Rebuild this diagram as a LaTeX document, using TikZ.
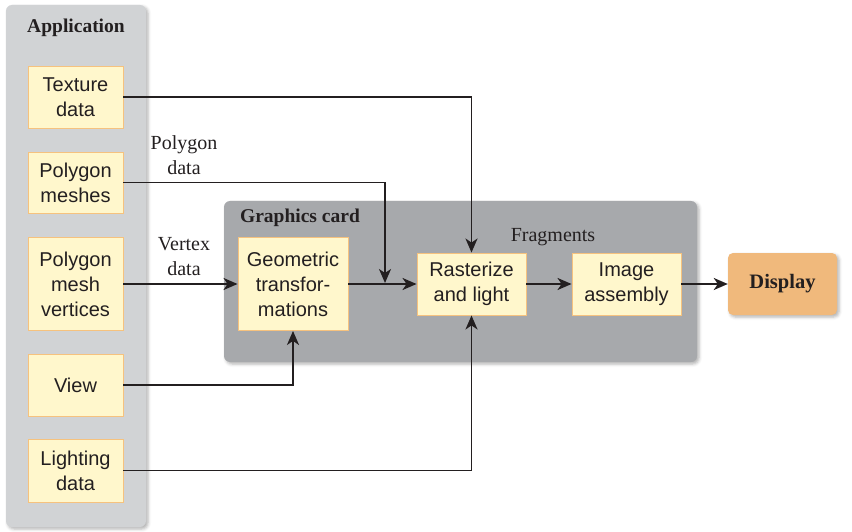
\documentclass[tikz,border=0pt]{standalone}
\usepackage{fontspec}
\setmainfont{Liberation Serif}
\newfontfamily\boxfont{Liberation Sans}
\usetikzlibrary{arrows.meta,shadows.blur}
\definecolor{apppanel}{HTML}{D1D3D5}
\definecolor{cardpanel}{HTML}{A7A9AC}
\definecolor{boxfill}{HTML}{FFF7CC}
\definecolor{boxline}{HTML}{F6C27E}
\definecolor{dispfill}{HTML}{F0B97C}
\definecolor{ink}{HTML}{231F20}
\tikzset{
  panel/.style={rounded corners=6pt, draw=none, blur shadow={shadow xshift=2pt, shadow yshift=-2pt, shadow blur radius=3pt, shadow opacity=30}},
  databox/.style={draw=boxline, fill=boxfill, line width=0.9pt, inner sep=0pt, align=center, text=ink,
    font=\boxfont\fontsize{20}{25}\selectfont},
  lbl/.style={align=center, text=ink, font=\fontsize{20}{25}\selectfont},
  title/.style={text=ink, font=\bfseries\fontsize{19.5}{24}\selectfont},
  conn/.style={draw=ink, line width=1.9pt, -{Stealth[length=14pt,width=12pt,inset=4pt]}},
}
\begin{document}
\begin{tikzpicture}[x=1pt,y=-1pt]
\useasboundingbox (0,0) rectangle (852,532);
% panels
\path[panel, fill=apppanel] (6,5) rectangle (146,527);
\path[panel, fill=cardpanel] (224,201) rectangle (697,362);
\node[title] (apptitle) at (76,28) {Application};
\node[title] (cardtitle) at (300,218) {Graphics card};
% application boxes
\node[databox, minimum width=95pt, minimum height=62pt] (tex) at (75.5,97) {Texture\\data};
\node[databox, minimum width=95pt, minimum height=61pt] (pmesh) at (75.5,182.5) {Polygon\\meshes};
\node[databox, minimum width=95pt, minimum height=93pt] (pverts) at (75.5,284) {Polygon\\mesh\\vertices};
\node[databox, minimum width=95pt, minimum height=62pt] (view) at (75.5,385) {View};
\node[databox, minimum width=95pt, minimum height=63pt] (light) at (75.5,470.5) {Lighting\\data};
% card boxes
\node[databox, minimum width=110pt, minimum height=93pt] (geom) at (293,284) {Geometric\\transfor-\\mations};
\node[databox, minimum width=109pt, minimum height=62pt] (rast) at (471.5,284) {Rasterize\\and light};
\node[databox, minimum width=109pt, minimum height=62pt] (img) at (626.5,284) {Image\\assembly};
\node[fill=dispfill, rounded corners=5pt, inner sep=0pt, minimum width=109pt, minimum height=62pt,
  text=ink, font=\bfseries\fontsize{20.5}{25}\selectfont,
  blur shadow={shadow xshift=2pt, shadow yshift=-2pt, shadow blur radius=3pt, shadow opacity=30}] (disp) at (782.5,284) {Display};
% labels
\node[lbl] (polylbl) at (184,155.5) {Polygon\\data};
\node[lbl] (vertlbl) at (184,256.5) {Vertex\\data};
\node[lbl] (fraglbl) at (553,237) {Fragments};
% connectors
\coordinate (join) at (385,283);
\draw[conn] (tex.east) -| (rast.north);
\draw[conn] (pmesh.east) -| (join);
\draw[conn] (pverts.east) -- (geom.west);
\draw[conn] (view.east) -| (geom.south);
\draw[conn] (light.east) -| (rast.south);
\draw[conn] (geom.east) -- (rast.west);
\draw[conn] (rast.east) -- (img.west);
\draw[conn] (img.east) -- (disp.west);
\end{tikzpicture}
\end{document}
